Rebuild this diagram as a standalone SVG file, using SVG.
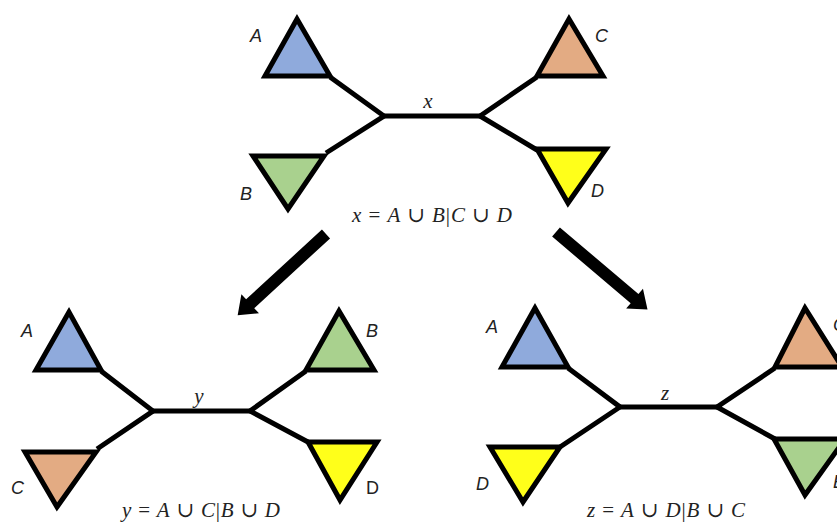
<svg xmlns="http://www.w3.org/2000/svg" width="837" height="524" viewBox="0 0 837 524">
<style>
.tri{stroke:#000;stroke-width:5;stroke-linejoin:miter}
.blue{fill:#8FAADC}.orange{fill:#E3AB83}.green{fill:#A9D18E}.yellow{fill:#FFFF1A}
.edge{stroke:#000;stroke-width:5;fill:none;stroke-linecap:butt}
.lbl{font-family:"Liberation Sans","Open Sans",sans-serif;font-style:italic;font-size:18px;fill:#222}
.up{font-style:normal}
.math{font-family:"Liberation Serif","DejaVu Serif",serif;font-size:21px;fill:#222}
.it{font-style:italic}
</style>
<defs>
<polygon id="arrow" points="0,-6 103,-6 103,-13 120,0 103,13 103,6 0,6" fill="#000"/>
</defs>
<rect width="837" height="524" fill="#fff"/>

<g id="connectors">
<!-- top tree -->
<polyline class="edge" points="330,77 384,116 326,153"/>
<polyline class="edge" points="537,77 480,116 537,150"/>
<line class="edge" x1="382" y1="116" x2="482" y2="116"/>
<!-- bottom-left tree -->
<polyline class="edge" points="101,371 153,411 97,449"/>
<polyline class="edge" points="306,371 250,411 308,442"/>
<line class="edge" x1="151" y1="411" x2="252" y2="411"/>
<!-- bottom-right tree -->
<polyline class="edge" points="568,368 620,407 560,447"/>
<polyline class="edge" points="775,368 717,407 775,439"/>
<line class="edge" x1="618" y1="407" x2="719" y2="407"/>
<!-- arrows -->
<use href="#arrow" transform="translate(326,234) rotate(137.4)"/>
<use href="#arrow" transform="translate(556,232) rotate(40.3)"/>
</g>

<!-- top tree nodes -->
<g id="x-A"><polygon class="tri blue" points="297,19 265,76 330,76"/><text class="lbl" x="250" y="42">A</text></g>
<g id="x-C"><polygon class="tri orange" points="569,19 537,76 603,76"/><text class="lbl" x="595" y="42">C</text></g>
<g id="x-B"><polygon class="tri green" points="253,156 324,156 288,209"/><text class="lbl" x="240" y="200">B</text></g>
<g id="x-D"><polygon class="tri yellow" points="537,149 606,149 568,203"/><text class="lbl" x="591" y="197">D</text></g>
<g id="x-label"><text class="math it" x="428" y="108" text-anchor="middle">x</text></g>
<g id="x-formula"><text class="math" x="352" y="222" textLength="160" lengthAdjust="spacing"><tspan class="it">x</tspan> = <tspan class="it">A</tspan> ∪ <tspan class="it">B</tspan>|<tspan class="it">C</tspan> ∪ <tspan class="it">D</tspan></text></g>

<!-- bottom-left tree nodes -->
<g id="y-A"><polygon class="tri blue" points="69,312 36,370 101,370"/><text class="lbl" x="21" y="337">A</text></g>
<g id="y-B"><polygon class="tri green" points="339,311 306,370 374,370"/><text class="lbl" x="366" y="337">B</text></g>
<g id="y-C"><polygon class="tri orange" points="25,452 96,452 57,507"/><text class="lbl" x="11" y="494">C</text></g>
<g id="y-D"><polygon class="tri yellow" points="308,442 377,442 340,500"/><text class="lbl up" x="366" y="494">D</text></g>
<g id="y-label"><text class="math it" x="199" y="403" text-anchor="middle">y</text></g>
<g id="y-formula"><text class="math" x="122" y="517" textLength="158" lengthAdjust="spacing"><tspan class="it">y</tspan> = <tspan class="it">A</tspan> ∪ <tspan class="it">C</tspan>|<tspan class="it">B</tspan> ∪ <tspan class="it">D</tspan></text></g>

<!-- bottom-right tree nodes -->
<g id="z-A"><polygon class="tri blue" points="535,308 502,367 568,367"/><text class="lbl" x="486" y="333">A</text></g>
<g id="z-C"><polygon class="tri orange" points="805,308 775,367 842,367"/><text class="lbl" x="833" y="331">C</text></g>
<g id="z-D"><polygon class="tri yellow" points="490,447 560,447 523,502"/><text class="lbl" x="476" y="490">D</text></g>
<g id="z-B"><polygon class="tri green" points="774,439 845,439 805,495"/><text class="lbl" x="833" y="488">B</text></g>
<g id="z-label"><text class="math it" x="665" y="400" text-anchor="middle">z</text></g>
<g id="z-formula"><text class="math" x="587" y="517" textLength="158" lengthAdjust="spacing"><tspan class="it">z</tspan> = <tspan class="it">A</tspan> ∪ <tspan class="it">D</tspan>|<tspan class="it">B</tspan> ∪ <tspan class="it">C</tspan></text></g>
</svg>
